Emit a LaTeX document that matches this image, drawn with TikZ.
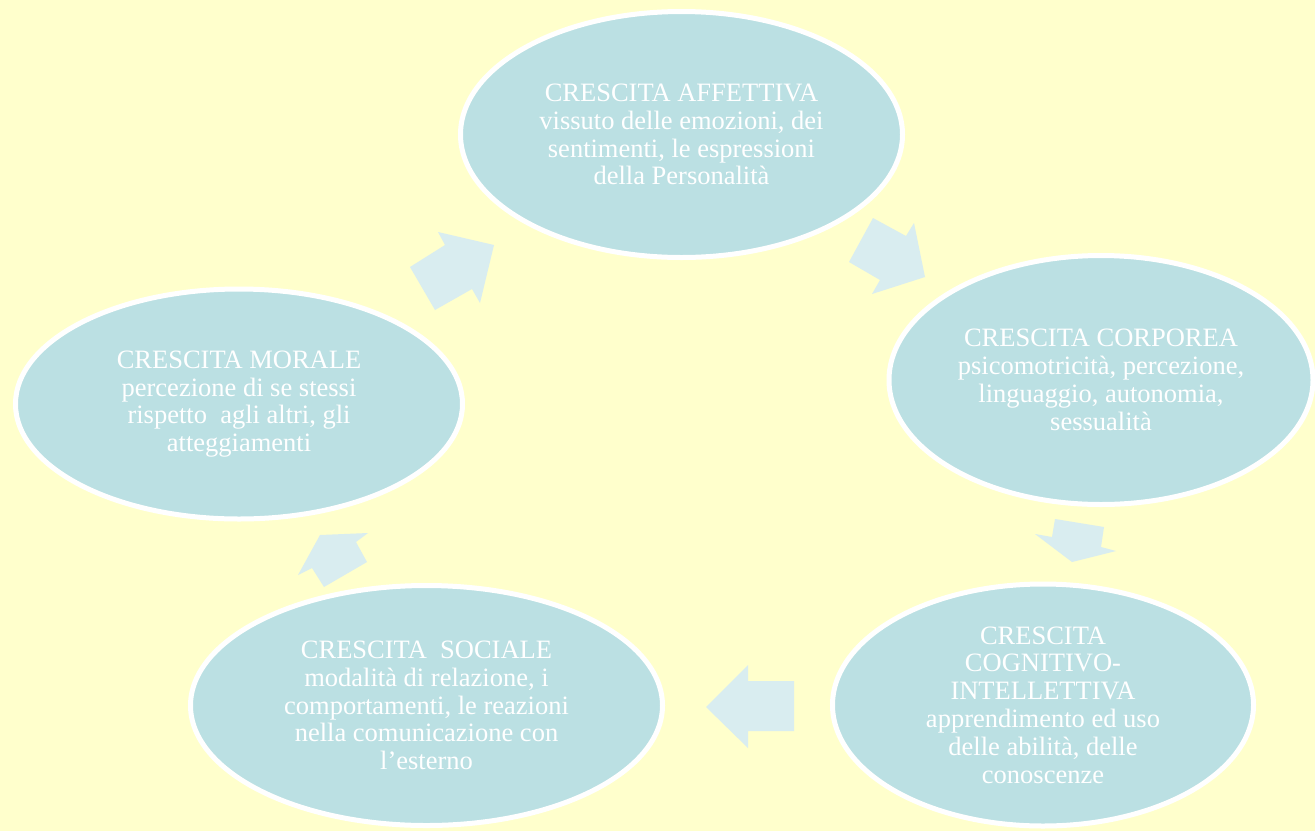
\documentclass[tikz,border=0pt]{standalone}
\usepackage{fontspec}
\setmainfont{Liberation Serif}
\usetikzlibrary{shapes.geometric}
\definecolor{sfondo}{HTML}{FFFFCC}
\definecolor{bolla}{HTML}{BBE0E3}
\definecolor{frecciachiara}{HTML}{D9EDF0}

\begin{document}
\begin{tikzpicture}[x=1pt,y=-1pt,
  crescita/.style={ellipse, fill=bolla, draw=white, line width=5pt, inner sep=0pt,
    text=white, align=center, font=\fontsize{26.5}{27.8}\selectfont},
  blocco/.style={fill=frecciachiara}]
\fill[sfondo] (0,0) rectangle (1315,831);
\useasboundingbox (0,0) rectangle (1315,831);

% le cinque aree di crescita
\node[crescita, minimum width=442pt, minimum height=246pt] (affettiva) at (681.5,134.5)
  {CRESCITA AFFETTIVA\\vissuto delle emozioni, dei\\sentimenti, le espressioni\\della Personalità};
\node[crescita, minimum width=424pt, minimum height=249pt] (corporea) at (1101,380)
  {CRESCITA CORPOREA\\psicomotricità, percezione,\\linguaggio, autonomia,\\sessualità};
\node[crescita, minimum width=421pt, minimum height=242pt] (cognitiva) at (1043,705)
  {CRESCITA\\COGNITIVO-\\INTELLETTIVA\\apprendimento ed uso\\delle abilità, delle\\conoscenze};
\node[crescita, minimum width=472pt, minimum height=240pt] (sociale) at (426.5,705.5)
  {CRESCITA\ \ SOCIALE\\modalità di relazione, i\\comportamenti, le reazioni\\nella comunicazione con\\l’esterno};
\node[crescita, minimum width=447pt, minimum height=230pt] (morale) at (239,404)
  {CRESCITA MORALE\\percezione di se stessi\\rispetto\ \ agli altri, gli\\atteggiamenti};

% frecce del ciclo
\fill[blocco] (410,267) -- (445,245) -- (438,232) -- (494,245) -- (480,303) -- (472,289) -- (435,310) -- cycle;
\fill[blocco] (849,262) -- (873,218) -- (906,236) -- (914,223) -- (925,277) -- (872,294) -- (880,280) -- cycle;
\fill[blocco] (1055,519) -- (1104,527) -- (1101,547) -- (1116,551) -- (1072,562) -- (1035,534) -- (1052,537) -- cycle;
\fill[blocco] (794,681) -- (748,681) -- (748,665) -- (706,707) -- (748,748) -- (748,731) -- (794,731) -- cycle;
\fill[blocco] (324,587) -- (312,568) -- (298,575) -- (320,535) -- (368,533) -- (356,542) -- (367,562) -- cycle;
\end{tikzpicture}
\end{document}
